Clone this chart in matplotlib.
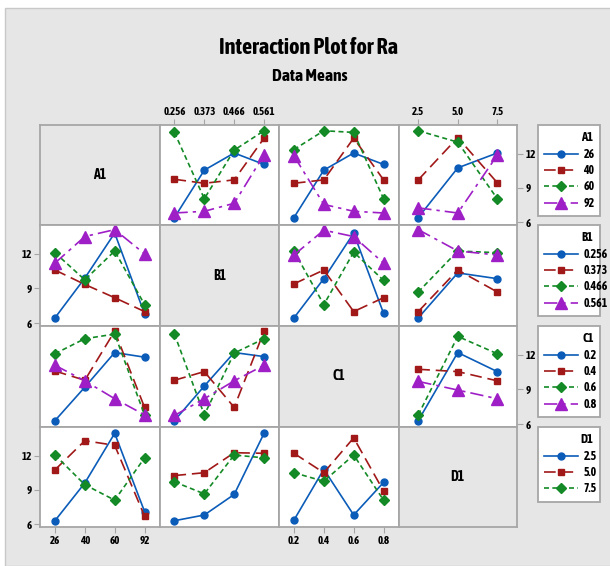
import matplotlib
matplotlib.use("Agg")
import matplotlib.pyplot as plt
from matplotlib.patches import Rectangle

# 因子水平
factors = ['A1', 'B1', 'C1', 'D1']
a_levels = ['26', '40', '60', '92']
b_levels = ['0.256', '0.373', '0.466', '0.561']
c_levels = ['0.2', '0.4', '0.6', '0.8']
d_levels = ['2.5', '5.0', '7.5']

# 均值 (行 = 曲线因子的水平, 列 = x 轴因子的水平)
a_by_b = [[6.4, 10.55, 12.05, 11.05], [9.75, 9.4, 9.7, 13.35],
          [13.85, 8.05, 12.3, 14.0], [6.8, 6.95, 7.65, 11.9]]
a_by_c = [[6.4, 10.55, 12.05, 11.05], [9.4, 9.7, 13.35, 9.7],
          [12.35, 14.0, 13.85, 8.05], [11.8, 7.55, 6.95, 6.8]]
a_by_d = [[6.4, 10.75, 12.05], [9.7, 13.4, 9.45],
          [14.0, 13.0, 8.05], [7.25, 6.8, 11.85]]
b_by_a = [[6.45, 9.9, 13.8, 6.8], [10.6, 9.35, 8.2, 7.0],
          [12.1, 9.75, 12.25, 7.6], [11.2, 13.5, 14.1, 12.0]]
b_by_c = [[6.45, 9.85, 13.8, 6.85], [9.4, 10.6, 7.0, 8.2],
          [12.25, 7.6, 12.15, 9.7], [11.9, 14.05, 13.5, 11.2]]
b_by_d = [[6.45, 10.35, 9.85], [7.0, 10.6, 8.7],
          [8.7, 12.25, 12.1], [14.1, 12.25, 11.9]]
c_by_a = [[6.3, 9.2, 12.2, 11.8], [10.6, 9.8, 14.05, 7.45],
          [12.1, 13.4, 13.8, 6.8], [11.1, 9.75, 8.2, 6.8]]
c_by_b = [[6.3, 9.3, 12.2, 11.85], [9.8, 10.55, 7.45, 14.05],
          [13.8, 6.8, 12.15, 13.4], [6.75, 8.2, 9.75, 11.1]]
c_by_d = [[6.3, 12.2, 10.55], [10.75, 10.55, 9.75],
          [6.8, 13.6, 12.1], [9.7, 8.95, 8.2]]
d_by_a = [[6.3, 9.6, 13.95, 7.1], [10.75, 13.3, 12.9, 6.7],
          [12.05, 9.45, 8.1, 11.8]]
d_by_b = [[6.3, 6.8, 8.6, 13.95], [10.25, 10.5, 12.25, 12.2],
          [9.7, 8.65, 12.05, 11.8]]
d_by_c = [[6.35, 10.8, 6.8, 9.65], [12.2, 10.5, 13.55, 8.9],
          [10.5, 9.75, 12.05, 8.1]]
y_ticks = [6, 9, 12]

levels = [a_levels, b_levels, c_levels, d_levels]
means = {
    (0, 1): a_by_b, (0, 2): a_by_c, (0, 3): a_by_d,
    (1, 0): b_by_a, (1, 2): b_by_c, (1, 3): b_by_d,
    (2, 0): c_by_a, (2, 1): c_by_b, (2, 3): c_by_d,
    (3, 0): d_by_a, (3, 1): d_by_b, (3, 2): d_by_c,
}

# 字体: 窄体粗体, 找不到就退回
plt.rcParams['font.family'] = ['Liberation Sans Narrow', 'Asap Condensed',
                               'Liberation Sans', 'DejaVu Sans']
plt.rcParams['font.weight'] = 'bold'

colors = ['#0B5CB8', '#A01818', '#138A26', '#9E1FC6']
markers = ['o', 's', 'D', '^']
msizes = [5, 5, 5, 8]
dashes = [None, (7, 3.5), (3, 2), (8, 3, 2, 3)]
edge = '#A6A6A6'
bg = '#E6E6E6'

W, H = 610, 566
fig = plt.figure(figsize=(W / 100, H / 100), dpi=100)
fig.patch.set_facecolor('white')
fig.patches.append(Rectangle((5 / W, 0), 1, 1 - 8 / H, transform=fig.transFigure,
                             facecolor=bg, edgecolor='#C8C8C8', lw=1, zorder=-10))

fig.text(308 / W, 1 - 48 / H, 'Interaction Plot for Ra', ha='center', va='center',
         fontsize=16, fontweight='bold')
fig.text(310 / W, 1 - 76 / H, 'Data Means', ha='center', va='center',
         fontsize=12.5, fontweight='bold')

x_edges = [40, 159.5, 279, 398.5, 517]
y_edges = [125, 225, 326, 427, 527]
ylim = (5.75, 14.5)

for i in range(4):
    for j in range(4):
        x0, x1 = x_edges[j], x_edges[j + 1]
        y0, y1 = y_edges[i], y_edges[i + 1]
        ax = fig.add_axes([x0 / W, 1 - y1 / H, (x1 - x0) / W, (y1 - y0) / H])
        for s in ax.spines.values():
            s.set_color(edge)
            s.set_linewidth(1.3)
        ax.tick_params(length=4, color=edge, labelsize=7.8, pad=2)
        n = len(levels[j])
        ax.set_xlim(0.5, n + 0.5)
        ax.set_ylim(*ylim)
        ax.set_xticks([])
        ax.set_yticks([])
        if i == j:
            ax.set_facecolor(bg)
            ax.text(0.5, 0.5, factors[i], transform=ax.transAxes, ha='center',
                    va='center', fontsize=10, fontweight='bold')
            continue
        ax.set_facecolor('white')
        lines = []
        for k, vals in enumerate(means[(i, j)]):
            ln, = ax.plot(range(1, n + 1), vals, color=colors[k], marker=markers[k],
                          ms=msizes[k], lw=1.2, label=levels[i][k])
            if dashes[k] is not None:
                ln.set_dashes(dashes[k])
            lines.append(ln)
        # 刻度
        if i == 0 and j in (1, 3):
            ax.xaxis.tick_top()
            ax.set_xticks(range(1, n + 1), levels[j])
        if i == 3 and j in (0, 2):
            ax.set_xticks(range(1, n + 1), levels[j])
        if j == 0 and i in (1, 3):
            ax.set_yticks(y_ticks)
        if j == 3 and i in (0, 2):
            ax.yaxis.tick_right()
            ax.set_yticks(y_ticks)
        if (i, j) in [(0, 1), (1, 0), (2, 0), (3, 0)]:
            leg_h = 90 if len(levels[i]) == 4 else 72
            leg = fig.legend(handles=lines, loc='upper left', mode='expand',
                             bbox_to_anchor=(538 / W, 1 - (y0 + leg_h) / H, 62 / W, leg_h / H),
                             title=factors[i], alignment='right', fontsize=8.5,
                             title_fontproperties={'weight': 'bold', 'size': 9},
                             frameon=True, fancybox=False, edgecolor=edge,
                             facecolor='white', framealpha=1,
                             handlelength=2.8, handletextpad=0.5, labelspacing=0.28,
                             borderpad=0.55, borderaxespad=0)
            leg.get_frame().set_linewidth(1.3)

fig.savefig('out.png', dpi=100)
